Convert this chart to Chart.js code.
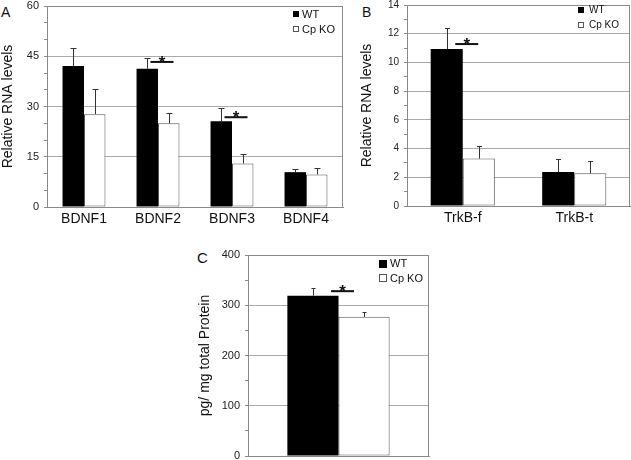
<!DOCTYPE html>
<html>
<head>
<meta charset="utf-8">
<script src="https://cdn.jsdelivr.net/npm/chart.js@4.4.1/dist/chart.umd.min.js"></script>
<style>
  html, body { margin:0; padding:0; background:#fff; width:631px; height:460px; overflow:hidden; position:relative; }
  canvas { position:absolute; }
  .lab { position:absolute; font-family:'Liberation Sans', Arial, sans-serif; line-height:14px; color:#111; }
</style>
</head>
<body>
<div class="lab" style="left:1px;top:5px;font-size:14px;">A</div>
<div class="lab" style="left:362px;top:5px;font-size:14px;">B</div>
<div class="lab" style="left:197px;top:251px;font-size:15px;">C</div>
<canvas id="cA" width="350" height="240" style="left:0px;top:-6px;"></canvas>
<canvas id="cB" width="272" height="240" style="left:359px;top:-7px;"></canvas>
<canvas id="cC" width="240" height="240" style="left:197px;top:243px;"></canvas>
<script>
// ---------- DATA ----------
const seriesNames = ['WT', 'Cp KO'];

// Panel A
const categoriesA = ['BDNF1', 'BDNF2', 'BDNF3', 'BDNF4'];
const wtA    = [42.1, 41.3, 25.6, 10.4];
const wtErrA = [5.4, 3.3, 4.0, 0.8];
const cpA    = [27.7, 25.0, 13.0, 9.7];
const cpErrA = [7.4, 3.0, 2.8, 1.8];
const sigA   = [null, 43.3, 26.8, null];
const yTicksA = [0, 15, 30, 45, 60];

// Panel B
const categoriesB = ['TrkB-f', 'TrkB-t'];
const wtB    = [10.93, 2.37];
const wtErrB = [1.44, 0.93];
const cpB    = [3.3, 2.28];
const cpErrB = [0.89, 0.86];
const sigB   = [11.28, null];
const yTicksB = [0, 2, 4, 6, 8, 10, 12, 14];

// Panel C
const categoriesC = [''];
const wtC    = [319];
const wtErrC = [15];
const cpC    = [277];
const cpErrC = [10];
const sigC   = [328];
const yTicksC = [0, 100, 200, 300, 400];

const FAMILY = "'Liberation Sans', Arial, sans-serif";

const overlay = {
  id: 'overlay',
  afterDatasetsDraw(chart, args, o) {
    const { ctx, chartArea: a, scales: { x, y } } = chart;
    ctx.save();
    // box (top + right)
    ctx.strokeStyle = '#8a8a8a';
    ctx.lineWidth = 1;
    ctx.beginPath();
    ctx.moveTo(a.left, Math.round(a.top) + 0.5);
    ctx.lineTo(Math.round(a.right) - 0.5, Math.round(a.top) + 0.5);
    ctx.lineTo(Math.round(a.right) - 0.5, a.bottom);
    ctx.stroke();
    // error bars
    chart.data.datasets.forEach((ds, i) => {
      const meta = chart.getDatasetMeta(i);
      meta.data.forEach((bar, j) => {
        const v = ds.data[j], e = ds.err[j];
        const yTop = Math.round(y.getPixelForValue(v + e)) + 0.5;
        const yBar = y.getPixelForValue(v);
        const cx = Math.round(bar.x) + 0.5;
        ctx.strokeStyle = '#333';
        ctx.lineWidth = 1;
        ctx.beginPath();
        ctx.moveTo(cx, yBar);
        ctx.lineTo(cx, yTop);
        ctx.moveTo(cx - o.cap / 2, yTop);
        ctx.lineTo(cx + o.cap / 2, yTop);
        ctx.stroke();
      });
    });
    // significance markers
    o.sig.forEach((s, j) => {
      if (s == null) return;
      const cx = x.getPixelForValue(j) + 4;
      const sy = y.getPixelForValue(s);
      ctx.strokeStyle = '#111';
      ctx.lineWidth = 2;
      ctx.beginPath();
      ctx.moveTo(cx - 11.5, sy);
      ctx.lineTo(cx + 11.5, sy);
      ctx.stroke();
      ctx.fillStyle = '#111';
      ctx.font = 'bold 17px ' + FAMILY;
      ctx.textAlign = 'center';
      ctx.textBaseline = 'alphabetic';
      ctx.fillText('*', cx, sy + 6);
    });
    // legend
    const L = o.legend;
    const sx = Math.round(a.right + L.dx);
    const names = chart.data.datasets.map(d => d.label);
    [L.dy1, L.dy2].forEach((dy, k) => {
      const cy = a.top + dy;
      const top = Math.round(cy - L.size / 2);
      if (k === 0) {
        ctx.fillStyle = '#000';
        ctx.fillRect(sx, top, L.size, L.size);
      } else {
        ctx.fillStyle = '#fff';
        ctx.fillRect(sx, top, L.size, L.size);
        ctx.strokeStyle = '#555';
        ctx.lineWidth = 1;
        ctx.strokeRect(sx + 0.5, top + 0.5, L.size - 1, L.size - 1);
      }
      ctx.fillStyle = '#111';
      ctx.font = L.font + 'px ' + FAMILY;
      ctx.textAlign = 'left';
      ctx.textBaseline = 'middle';
      ctx.fillText(names[k], sx + L.size + L.gap, cy + 0.5);
    });
    ctx.restore();
  }
};

function makeChart(id, c) {
  return new Chart(document.getElementById(id), {
    type: 'bar',
    data: {
      labels: c.labels,
      datasets: [
        { label: seriesNames[0], data: c.wt, err: c.wtErr, backgroundColor: '#000', borderColor: '#000', borderWidth: 0 },
        { label: seriesNames[1], data: c.cp, err: c.cpErr, backgroundColor: '#fff', borderColor: '#555', borderWidth: 1, borderSkipped: false }
      ]
    },
    options: {
      responsive: false,
      animation: false,
      devicePixelRatio: 1,
      layout: { padding: c.pad },
      datasets: { bar: { categoryPercentage: c.cat, barPercentage: 1 } },
      plugins: {
        legend: { display: false },
        tooltip: { enabled: false },
        overlay: { cap: c.cap, sig: c.sig, legend: c.legend }
      },
      scales: {
        x: {
          grid: { display: false, drawTicks: false },
          border: { display: true, color: '#8a8a8a' },
          ticks: { display: c.showX, font: { size: 14, family: FAMILY }, color: '#111', padding: 4 },
          afterFit(s) { s.height = c.xh; }
        },
        y: {
          min: 0, max: c.ticks[c.ticks.length - 1],
          grid: {
            color: ctx => (ctx.tick && c.ticks.includes(ctx.tick.value)) ? '#ababab' : 'rgba(0,0,0,0)',
            tickColor: '#8a8a8a', tickLength: 3, drawTicks: true
          },
          border: { display: true, color: '#8a8a8a' },
          ticks: {
            stepSize: c.minor, autoSkip: false,
            callback: v => c.ticks.includes(v) ? String(v) : '',
            font: { size: c.tickFont, family: FAMILY }, color: '#222', padding: 5
          },
          title: { display: true, text: c.title, font: { size: 14, family: FAMILY }, color: '#111', padding: 0 },
          afterFit(s) { s.width = c.yw; }
        }
      }
    },
    plugins: [overlay]
  });
}

makeChart('cA', {
  labels: categoriesA, wt: wtA, wtErr: wtErrA, cp: cpA, cpErr: cpErrA, sig: sigA,
  ticks: yTicksA, minor: 5, tickFont: 11, title: 'Relative RNA levels',
  pad: { top: 12, right: 7, left: 0, bottom: 0 }, yw: 47, xh: 27, cat: 0.58, cap: 6, showX: true,
  legend: { dx: -50, dy1: 8, dy2: 23, size: 6, font: 11, gap: 3 }
});
makeChart('cB', {
  labels: categoriesB, wt: wtB, wtErr: wtErrB, cp: cpB, cpErr: cpErrB, sig: sigB,
  ticks: yTicksB, minor: 1, tickFont: 10, title: 'Relative RNA levels',
  pad: { top: 12, right: 1, left: 0, bottom: 0 }, yw: 48, xh: 27, cat: 0.575, cap: 5, showX: true,
  legend: { dx: -52, dy1: 5, dy2: 20, size: 6, font: 10, gap: 5 }
});
makeChart('cC', {
  labels: categoriesC, wt: wtC, wtErr: wtErrC, cp: cpC, cpErr: cpErrC, sig: sigC,
  ticks: yTicksC, minor: 50, tickFont: 11, title: 'pg/ mg total Protein',
  pad: { top: 12, right: 8, left: 0, bottom: 0 }, yw: 51, xh: 27, cat: 0.565, cap: 4, showX: false,
  legend: { dx: -50, dy1: 8.7, dy2: 23.3, size: 8, font: 11, gap: 3 }
});
</script>
</body>
</html>
